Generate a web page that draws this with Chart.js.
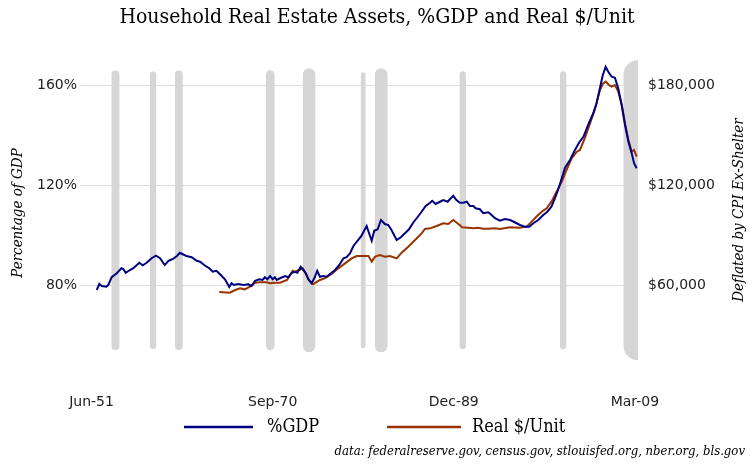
<!DOCTYPE html>
<html lang="en">
<head>
    <meta charset="UTF-8">
    <title>Household Real Estate Assets</title>
    <script src="https://cdn.jsdelivr.net/npm/chart.js"></script>
    <style>
        body {
            margin: 0;
            background-color: #ffffff;
        }
        #chart {
            display: block;
        }
    </style>
</head>
<body>
    <canvas id="chart" width="754" height="465"></canvas>
    <script>
        // %GDP series (decimal year, percent)
        const gdpYears = [1951.97, 1952.25, 1952.5, 1953.0, 1953.2, 1953.56, 1954.1, 1954.6, 1954.8, 1955.05,
            1955.5, 1955.86, 1956.5, 1956.86, 1957.28, 1957.8, 1958.27, 1958.7, 1959.2, 1959.6,
            1960.05, 1960.5, 1960.8, 1961.5, 1962.06, 1962.6, 1962.95, 1963.5, 1963.93, 1964.3,
            1964.7, 1965.07, 1965.6, 1966.06, 1966.3, 1966.56, 1967.0, 1967.55, 1968.08, 1968.44,
            1968.8, 1969.25, 1969.6, 1969.85, 1970.1, 1970.4, 1970.67, 1970.9, 1971.1, 1971.45,
            1972.0, 1972.33, 1972.7, 1973.05, 1973.3, 1973.65, 1973.93, 1974.2, 1974.45, 1974.8,
            1975.1, 1975.4, 1975.7, 1976.05, 1976.4, 1976.76, 1977.3, 1977.75, 1978.2, 1978.53,
            1978.9, 1979.24, 1979.6, 1980.1, 1980.66, 1980.9, 1981.2, 1981.47, 1981.83, 1982.18,
            1982.6, 1982.96, 1983.3, 1983.85, 1984.3, 1984.73, 1985.16, 1985.6, 1986.1, 1986.5,
            1986.93, 1987.4, 1987.63, 1988.0, 1988.45, 1988.8, 1989.27, 1989.5, 1989.87, 1990.2,
            1990.57, 1990.93, 1991.3, 1991.64, 1992.0, 1992.24, 1992.7, 1993.05, 1993.6, 1993.94,
            1994.3, 1994.83, 1995.36, 1995.9, 1996.4, 1996.95, 1997.48, 1997.94, 1998.37, 1998.9,
            1999.43, 1999.86, 2000.3, 2000.67, 2001.0, 2001.4, 2001.74, 2002.27, 2002.8, 2003.26,
            2003.7, 2004.2, 2004.74, 2005.1, 2005.45, 2005.74, 2006.06, 2006.34, 2006.7, 2007.05,
            2007.4, 2007.77, 2008.12, 2008.48, 2008.83, 2009.08, 2009.36];
        const gdpValues = [78, 80.4, 79.6, 79.3, 80, 83.1, 84.7, 86.7, 86.4, 84.9,
            86, 86.7, 88.9, 87.9, 88.9, 90.7, 91.7, 90.7, 88, 89.7,
            90.4, 91.6, 92.9, 91.6, 91.1, 89.7, 89.3, 87.7, 86.7, 85.3,
            85.7, 84.3, 82.3, 79.2, 80.7, 80, 80.4, 80, 80.3, 79.6,
            81.7, 82.3, 82, 83.1, 82.3, 83.6, 82.3, 83.1, 82, 82.7,
            83.6, 83.1, 84.9, 85.3, 84.9, 87.3, 86, 84.7, 82.3, 80.7,
            82.7, 85.7, 83.3, 83.6, 83.3, 84.4, 86, 88, 90.7, 91.1,
            92.7, 95.5, 97.3, 99.6, 103.6, 100.9, 97.7, 101.7, 102.3, 106,
            104.4, 104, 102, 98, 99.1, 100.7, 102.3, 104.9, 107.3, 109.3,
            111.6, 112.9, 113.7, 112.4, 113.3, 114, 113.3, 114.3, 115.7, 114,
            112.9, 112.9, 113.3, 111.6, 111.6, 110.7, 110.3, 108.7, 109.1, 108,
            106.7, 105.7, 106.4, 106, 105.1, 104, 103.3, 103.3, 104.7, 106,
            108, 109.3, 111.3, 114.7, 118, 122.7, 126.9, 130, 134, 137.1,
            139.3, 144, 148.7, 152.7, 158.7, 163.7, 167.3, 165.3, 163.3, 162.9,
            158.7, 152, 144, 137.3, 132.7, 128.7, 126.7];

        // Real $/Unit series (decimal year, dollars)
        const unitYears = [1965.0, 1966.1, 1966.7, 1967.2, 1967.7, 1968.26, 1968.8, 1969.3, 1970.0, 1970.4,
            1970.9, 1971.45, 1972.2, 1972.8, 1973.05, 1973.5, 1973.87, 1974.2, 1974.6, 1974.95,
            1975.4, 1975.7, 1976.2, 1976.95, 1977.65, 1978.36, 1979.07, 1979.6, 1980.5, 1980.85,
            1981.2, 1981.56, 1982.08, 1982.6, 1983.14, 1983.85, 1984.38, 1985.08, 1985.8, 1986.5,
            1986.86, 1987.4, 1988.1, 1988.8, 1989.33, 1989.87, 1990.4, 1990.82, 1991.46, 1992.0,
            1992.52, 1993.05, 1993.6, 1994.3, 1994.83, 1995.9, 1996.95, 1997.66, 1998.2, 1998.7,
            1999.26, 1999.8, 2000.3, 2000.85, 2001.4, 2001.9, 2002.45, 2003.0, 2003.33, 2003.87,
            2004.4, 2004.9, 2005.45, 2005.8, 2006.08, 2006.4, 2006.7, 2007.05, 2007.4, 2007.77,
            2008.12, 2008.48, 2008.83, 2009.08, 2009.36];
        const unitValues = [55800, 55400, 57000, 58000, 57400, 59000, 61400, 61600, 61600, 61000,
            61400, 61400, 63000, 68600, 68000, 69000, 70000, 66600, 62400, 60400,
            62000, 63000, 64000, 66600, 70000, 73000, 76000, 77400, 77400, 77400,
            74000, 77000, 78000, 77000, 77400, 76000, 79400, 83000, 87000, 91000,
            93600, 94000, 95400, 97000, 96600, 99000, 96600, 94600, 94400, 94000,
            94400, 93800, 93800, 94000, 93600, 94600, 94400, 95000, 98000, 101000,
            104000, 106000, 110000, 116000, 122000, 129000, 136000, 140000, 141000, 148400,
            157000, 165000, 177000, 181000, 182000, 180000, 179000, 180000, 176000, 168000,
            157000, 147000, 140000, 141000, 137000];

        // recession shading (start / end, decimal year)
        const recessionStarts = [1953.54, 1957.63, 1960.29, 1969.96, 1973.88, 1980.04, 1981.54, 1990.54, 2001.21, 2007.96];
        const recessionEnds = [1954.38, 1958.29, 1961.12, 1970.88, 1975.21, 1980.54, 1982.88, 1991.21, 2001.88, 2011.0];

        // axis ticks
        const xTickYears = [1951.42, 1970.67, 1989.92, 2009.17];
        const xTickLabels = ['Jun-51', 'Sep-70', 'Dec-89', 'Mar-09'];
        const pctTicks = [80, 120, 160];
        const dollarTicks = [60000, 120000, 180000];

        const serif = "'DejaVu Serif Condensed', 'Liberation Serif', serif";
        const sans = "'DejaVu Sans', Verdana, sans-serif";

        // grey recession bars, drawn as thick round-capped strokes behind the lines
        const recessionBars = {
            id: 'recessionBars',
            beforeDatasetsDraw(chart) {
                const { ctx, chartArea, scales } = chart;
                ctx.save();
                ctx.beginPath();
                ctx.rect(chartArea.left, chartArea.top, chartArea.right - chartArea.left, chartArea.bottom - chartArea.top);
                ctx.clip();
                ctx.strokeStyle = '#d6d6d6';
                ctx.lineCap = 'round';
                const yTop = scales.y.getPixelForValue(164.2);
                const yBot = scales.y.getPixelForValue(55.6);
                recessionStarts.forEach((s, i) => {
                    const x1 = scales.x.getPixelForValue(s);
                    const x2 = scales.x.getPixelForValue(recessionEnds[i]);
                    ctx.lineWidth = x2 - x1;
                    ctx.beginPath();
                    ctx.moveTo((x1 + x2) / 2, yTop);
                    ctx.lineTo((x1 + x2) / 2, yBot);
                    ctx.stroke();
                });
                ctx.restore();
            }
        };

        // title, axis titles, legend and source note
        const decorations = {
            id: 'decorations',
            afterDraw(chart) {
                const { ctx, chartArea } = chart;
                const midY = (chartArea.top + chartArea.bottom) / 2;
                ctx.save();
                ctx.fillStyle = '#000';
                ctx.textBaseline = 'middle';

                ctx.textAlign = 'center';
                ctx.font = '21px ' + serif;
                ctx.fillText('Household Real Estate Assets, %GDP and Real $/Unit', 377, 18);

                ctx.font = 'italic 15px ' + serif;
                ctx.save();
                ctx.translate(18, midY + 3);
                ctx.rotate(-Math.PI / 2);
                ctx.fillText('Percentage of GDP', 0, 0);
                ctx.restore();
                ctx.save();
                ctx.translate(739, midY);
                ctx.rotate(-Math.PI / 2);
                ctx.fillText('Deflated by CPI Ex-Shelter', 0, 0);
                ctx.restore();

                // legend
                const legendY = 427;
                const items = [[184, 253, 267], [387, 461, 472]];
                ctx.textAlign = 'left';
                ctx.font = '18px ' + serif;
                chart.data.datasets.forEach((ds, i) => {
                    const [l1, l2, tx] = items[i];
                    ctx.strokeStyle = ds.borderColor;
                    ctx.lineWidth = 2.5;
                    ctx.beginPath();
                    ctx.moveTo(l1, legendY);
                    ctx.lineTo(l2, legendY);
                    ctx.stroke();
                    ctx.fillText(ds.label, tx, legendY);
                });

                ctx.textAlign = 'right';
                ctx.font = 'italic 13px ' + serif;
                ctx.fillText('data: federalreserve.gov, census.gov, stlouisfed.org, nber.org, bls.gov', 745, 452);
                ctx.restore();
            }
        };

        new Chart(document.getElementById('chart'), {
            type: 'line',
            data: {
                datasets: [{
                    label: '%GDP',
                    data: gdpYears.map((x, i) => ({ x: x, y: gdpValues[i] })),
                    borderColor: '#000080',
                    borderWidth: 2,
                    pointRadius: 0,
                    yAxisID: 'y'
                }, {
                    label: 'Real $/Unit',
                    data: unitYears.map((x, i) => ({ x: x, y: unitValues[i] })),
                    borderColor: '#993300',
                    borderWidth: 2,
                    pointRadius: 0,
                    yAxisID: 'y2'
                }]
            },
            options: {
                responsive: false,
                animation: false,
                devicePixelRatio: 1,
                layout: { padding: { top: 60, left: 0, right: 0, bottom: 0 } },
                plugins: {
                    legend: { display: false },
                    title: { display: false },
                    tooltip: { enabled: false }
                },
                scales: {
                    x: {
                        type: 'linear',
                        min: 1950.3,
                        max: 2009.5,
                        grid: { display: false, drawTicks: false },
                        border: { display: false },
                        afterBuildTicks: scale => { scale.ticks = xTickYears.map(v => ({ value: v })); },
                        afterFit: scale => { scale.height = 105; },
                        ticks: {
                            autoSkip: false,
                            maxRotation: 0,
                            padding: 34,
                            color: '#222',
                            font: { family: sans, size: 14 },
                            callback: (v, i) => xTickLabels[i]
                        }
                    },
                    y: {
                        position: 'left',
                        min: 50,
                        max: 170,
                        grid: { color: '#dddddd', drawTicks: false },
                        border: { display: false },
                        afterBuildTicks: scale => { scale.ticks = pctTicks.map(v => ({ value: v })); },
                        afterFit: scale => { scale.width = 81; },
                        ticks: {
                            padding: 4,
                            color: '#222',
                            font: { family: sans, size: 14 },
                            callback: v => v + '%'
                        }
                    },
                    y2: {
                        position: 'right',
                        min: 15000,
                        max: 195000,
                        grid: { display: false, drawTicks: false },
                        border: { display: false },
                        afterBuildTicks: scale => { scale.ticks = dollarTicks.map(v => ({ value: v })); },
                        afterFit: scale => { scale.width = 116; },
                        ticks: {
                            padding: 10,
                            color: '#222',
                            font: { family: sans, size: 14 },
                            callback: v => '$' + v.toLocaleString('en-US')
                        }
                    }
                }
            },
            plugins: [recessionBars, decorations]
        });
    </script>
</body>
</html>
